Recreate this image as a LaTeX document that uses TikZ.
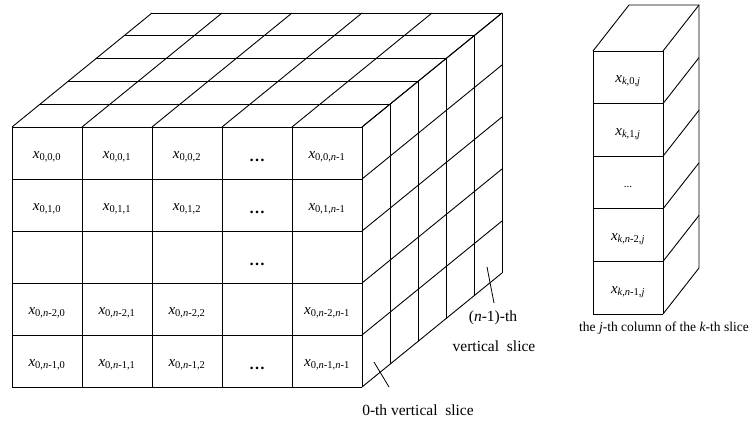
\documentclass[tikz,border=0pt]{standalone}
\usepackage{fontspec}
\setmainfont{Liberation Serif}
% x with an upright/italic subscript list
\newcommand\xs[1]{\textit{x}\textsubscript{#1}}
\newcommand\nn{\textit{n}}
\begin{document}
\begin{tikzpicture}[x=1pt,y=-1pt,line width=0.9pt,
  cell/.style={anchor=base,inner sep=0pt,font=\fontsize{15}{18}\selectfont},
  dots/.style={anchor=base,inner sep=0pt,font=\fontsize{16}{18}\selectfont\bfseries},
  lbl/.style={anchor=base,inner sep=0pt,font=\fontsize{15.5}{18}\selectfont},
  captext/.style={anchor=base,inner sep=0pt,font=\fontsize{13.5}{16}\selectfont},
  pointer/.style={line width=0.8pt}]
\useasboundingbox (0,0) rectangle (750,423);

% ---- the n x n x n cube ----
% top face: depth lines and column lines
\foreach \i in {0,...,5}
  \draw ({12+28*\i},{127-22.8*\i}) -- ({362+28*\i},{127-22.8*\i});
\foreach \j in {0,...,5}
  \draw ({12+70*\j},127) -- ({152+70*\j},13);
% right face: depth verticals and row diagonals
\foreach \i in {0,...,5}
  \draw ({362+28*\i},{127-22.8*\i}) -- ({362+28*\i},{387-22.8*\i});
\foreach \r in {0,...,5}
  \draw (362,{127+52*\r}) -- (502,{13+52*\r});
% front face grid
\foreach \j in {0,...,5}
  \draw ({12+70*\j},127) -- ({12+70*\j},387);
\foreach \r in {0,...,5}
  \draw (12,{127+52*\r}) -- (362,{127+52*\r});

% front face entries (baseline a little below each cell centre)
\node[cell] (c00) at (47,158)  {\xs{0,0,0}};
\node[cell] (c01) at (117,158) {\xs{0,0,1}};
\node[cell] (c02) at (187,158) {\xs{0,0,2}};
\node[dots] (c03) at (257,161) {…};
\node[cell] (c04) at (327,158) {\xs{0,0,\nn-1}};

\node[cell] (c10) at (47,210)  {\xs{0,1,0}};
\node[cell] (c11) at (117,210) {\xs{0,1,1}};
\node[cell] (c12) at (187,210) {\xs{0,1,2}};
\node[dots] (c13) at (257,213) {…};
\node[cell] (c14) at (327,210) {\xs{0,1,\nn-1}};

\node[dots] (c23) at (257,265) {…};

\node[cell] (c30) at (47,314)  {\xs{0,\nn-2,0}};
\node[cell] (c31) at (117,314) {\xs{0,\nn-2,1}};
\node[cell] (c32) at (187,314) {\xs{0,\nn-2,2}};
\node[cell] (c34) at (327,314) {\xs{0,\nn-2,\nn-1}};

\node[cell] (c40) at (47,366)  {\xs{0,\nn-1,0}};
\node[cell] (c41) at (117,366) {\xs{0,\nn-1,1}};
\node[cell] (c42) at (187,366) {\xs{0,\nn-1,2}};
\node[dots] (c43) at (257,369) {…};
\node[cell] (c44) at (327,366) {\xs{0,\nn-1,\nn-1}};

% slice labels and their pointers
\coordinate (p0a) at (374,362);
\coordinate (p0b) at (389,387);
\draw[pointer] (p0a) -- (p0b);
\node[lbl] (slice0) at (418,415) {0-th vertical~~slice};

\coordinate (pna) at (487,267);
\coordinate (pnb) at (494,303);
\draw[pointer] (pna) -- (pnb);
\node[lbl] (slicen) at (493,321) {(\nn-1)-th};
\node[lbl] (slicenb) at (494,351) {vertical~~slice};

% ---- a single column of a slice ----
\foreach \r in {0,...,5}
  \draw (593,{51+52.6*\r}) -- (663,{51+52.6*\r});
\draw (593,51) -- (593,314);
\draw (663,51) -- (663,314);
\foreach \r in {0,...,5}
  \draw (663,{51+52.6*\r}) -- (699,{5+52.6*\r});
\draw (593,51) -- (629,5) -- (699,5) -- (699,268);

\node[cell] (k0) at (628,82)  {\xs{\textit{k},0,\textit{j}}};
\node[cell] (k1) at (628,135) {\xs{\textit{k},1,\textit{j}}};
\node[anchor=base,inner sep=0pt,font=\fontsize{11}{12}\selectfont] (k2) at (628,187) {...};
\node[cell] (k3) at (628,240) {\xs{\textit{k},\nn-2,\textit{j}}};
\node[cell] (k4) at (628,293) {\xs{\textit{k},\nn-1,\textit{j}}};

\node[captext] (colcap) at (664,331) {the \textit{j}-th column of the \textit{k}-th slice};
\end{tikzpicture}
\end{document}
